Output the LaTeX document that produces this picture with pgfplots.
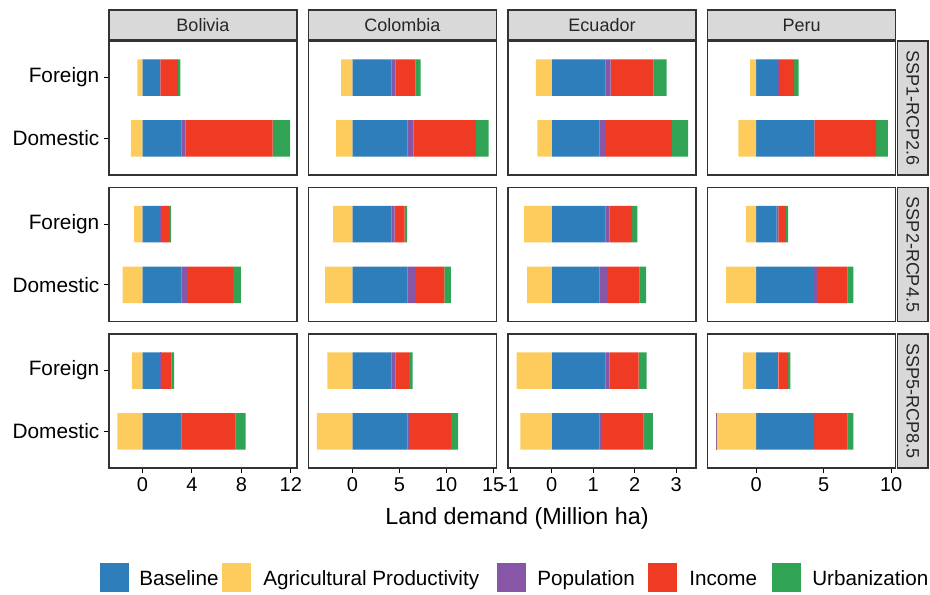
\documentclass[border=0pt]{standalone}
\usepackage{pgfplots}
\usepackage{pgfplotstable}
\pgfplotsset{compat=1.18}
\usepackage{fontspec}
\setmainfont{Liberation Sans}

\definecolor{cBase}{HTML}{2E7EBB}
\definecolor{cAgr}{HTML}{FECB5D}
\definecolor{cPop}{HTML}{8856A7}
\definecolor{cInc}{HTML}{EF3B23}
\definecolor{cUrb}{HTML}{31A354}
\definecolor{stripgray}{HTML}{D9D9D9}
\definecolor{frame}{HTML}{333333}

% y: 1 = Foreign, 0 = Domestic; agr/popn = negative parts, rest positive
\pgfplotstableread{
y agr popn base pop inc urb
1 -0.41 0 1.42 0.03 1.41 0.22
0 -0.94 0 3.17 0.33 7.02 1.43
}\BolA
\pgfplotstableread{
y agr popn base pop inc urb
1 -0.67 0 1.42 0.08 0.67 0.14
0 -1.60 0 3.17 0.51 3.66 0.63
}\BolB
\pgfplotstableread{
y agr popn base pop inc urb
1 -0.86 0 1.42 0.02 0.93 0.19
0 -2.03 0 3.17 0.00 4.36 0.81
}\BolC
\pgfplotstableread{
y agr popn base pop inc urb
1 -1.20 0 4.15 0.46 2.09 0.57
0 -1.73 0 5.85 0.68 6.63 1.35
}\ColA
\pgfplotstableread{
y agr popn base pop inc urb
1 -2.05 0 4.15 0.36 1.06 0.25
0 -2.90 0 5.85 0.82 3.12 0.71
}\ColB
\pgfplotstableread{
y agr popn base pop inc urb
1 -2.66 0 4.15 0.44 1.45 0.39
0 -3.79 0 5.85 0.28 4.36 0.78
}\ColC
\pgfplotstableread{
y agr popn base pop inc urb
1 -0.38 0 1.30 0.12 1.04 0.31
0 -0.34 0 1.16 0.15 1.59 0.39
}\EcuA
\pgfplotstableread{
y agr popn base pop inc urb
1 -0.66 0 1.30 0.10 0.54 0.13
0 -0.59 0 1.16 0.18 0.78 0.16
}\EcuB
\pgfplotstableread{
y agr popn base pop inc urb
1 -0.84 0 1.30 0.09 0.71 0.19
0 -0.75 0 1.16 0.06 1.00 0.22
}\EcuC
\pgfplotstableread{
y agr popn base pop inc urb
1 -0.44 0 1.53 0.17 1.11 0.34
0 -1.31 0 4.29 0.02 4.58 0.86
}\PerA
\pgfplotstableread{
y agr popn base pop inc urb
1 -0.76 0 1.52 0.12 0.57 0.15
0 -2.22 0 4.29 0.22 2.27 0.42
}\PerB
\pgfplotstableread{
y agr popn base pop inc urb
1 -0.98 0 1.55 0.10 0.71 0.17
0 -2.90 -0.10 4.29 0.00 2.49 0.42
}\PerC

% negative values stack separately to the left of 0
\newcommand{\bars}[1]{%
  \addplot[fill=cAgr] table[x=agr,y=y]{#1};
  \addplot[fill=cPop] table[x=popn,y=y]{#1};
  \addplot[fill=cBase] table[x=base,y=y]{#1};
  \addplot[fill=cPop] table[x=pop,y=y]{#1};
  \addplot[fill=cInc] table[x=inc,y=y]{#1};
  \addplot[fill=cUrb] table[x=urb,y=y]{#1};
}

\pgfplotsset{
  panel/.style={
    anchor=north west, width=141pt, height=100.5pt, scale only axis,
    xbar stacked, stack negative=separate, bar width=0.6,
    every axis plot/.append style={draw=none},
    ymin=-0.6, ymax=1.6,
    xtick=\empty, ytick=\empty,
    axis line style={frame, line width=0.8pt},
    tick style={black, line width=0.8pt},
    tick align=outside, major tick length=3.75pt,
    xtick pos=bottom, ytick pos=left,
    tick label style={font=\fontsize{15}{18}\selectfont, black},
    yticklabel style={font=\fontsize{15.6}{18}\selectfont},
    /pgf/number format/assume math mode=true,
  },
  ylab/.style={ytick={0,1}, yticklabels={Domestic,Foreign}},
}

\newcommand{\panel}[5]{%
  \begin{axis}[panel, at={(#1,#2)}, #4]
  \bars{#3}
  \end{axis}}

\begin{document}
\begin{tikzpicture}
\path[use as bounding box] (0,0) rectangle (697.5pt,-445.5pt);

% column x: 81.75, 231.375, 381, 530.625 ; row y: -30.75, -140.625, -250.5
\panel{81.75pt}{-30.75pt}{\BolA}{xmin=-2.7, xmax=12.5, ylab}{}
\panel{81.75pt}{-140.625pt}{\BolB}{xmin=-2.7, xmax=12.5, ylab}{}
\panel{81.75pt}{-250.5pt}{\BolC}{xmin=-2.7, xmax=12.5, ylab, xtick={0,4,8,12}}{}

\panel{231.375pt}{-30.75pt}{\ColA}{xmin=-4.68, xmax=15.36}{}
\panel{231.375pt}{-140.625pt}{\ColB}{xmin=-4.68, xmax=15.36}{}
\panel{231.375pt}{-250.5pt}{\ColC}{xmin=-4.68, xmax=15.36, xtick={0,5,10,15}}{}

\panel{381pt}{-30.75pt}{\EcuA}{xmin=-1.05, xmax=3.48}{}
\panel{381pt}{-140.625pt}{\EcuB}{xmin=-1.05, xmax=3.48}{}
\panel{381pt}{-250.5pt}{\EcuC}{xmin=-1.05, xmax=3.48, xtick={-1,0,1,2,3}}{}

\panel{530.625pt}{-30.75pt}{\PerA}{xmin=-3.6, xmax=10.32}{}
\panel{530.625pt}{-140.625pt}{\PerB}{xmin=-3.6, xmax=10.32}{}
\panel{530.625pt}{-250.5pt}{\PerC}{xmin=-3.6, xmax=10.32, xtick={0,5,10}}{}

% facet strips
\foreach \x/\name in {81.75/Bolivia, 231.375/Colombia, 381/Ecuador, 530.625/Peru}{
  \draw[fill=stripgray, draw=frame, line width=0.8pt] (\x pt,-7.5pt) rectangle ++(141pt,-22.5pt);
  \node[font=\fontsize{13.5}{15}\selectfont, text=black!85] at (\x pt+70.5pt,-18.75pt) {\name};
}
\foreach \y/\name in {-30.75/SSP1-RCP2.6, -140.625/SSP2-RCP4.5, -250.5/SSP5-RCP8.5}{
  \draw[fill=stripgray, draw=frame, line width=0.8pt] (673.1pt,\y pt) rectangle ++(22.9pt,-100.5pt);
  \node[font=\fontsize{13.5}{15}\selectfont, text=black!85, rotate=-90] at (684.55pt,\y pt-50.25pt) {\name};
}

% axis title
\node[font=\fontsize{17.5}{20}\selectfont] at (387.75pt,-388.5pt) {Land demand (Million ha)};

% legend
\foreach \kx/\tx/\col/\lab in {75/104.25/cBase/Baseline, 166.5/197.25/cAgr/Agricultural Productivity,
  372.75/402.75/cPop/Population, 486/516.75/cInc/Income, 579/609/cUrb/Urbanization}{
  \fill[\col] (\kx pt,-422.25pt) rectangle ++(22pt,-22pt);
  \node[anchor=base west, inner sep=0pt, font=\fontsize{15.5}{18}\selectfont] at (\tx pt,-439pt) {\lab};
}
\end{tikzpicture}
\end{document}
